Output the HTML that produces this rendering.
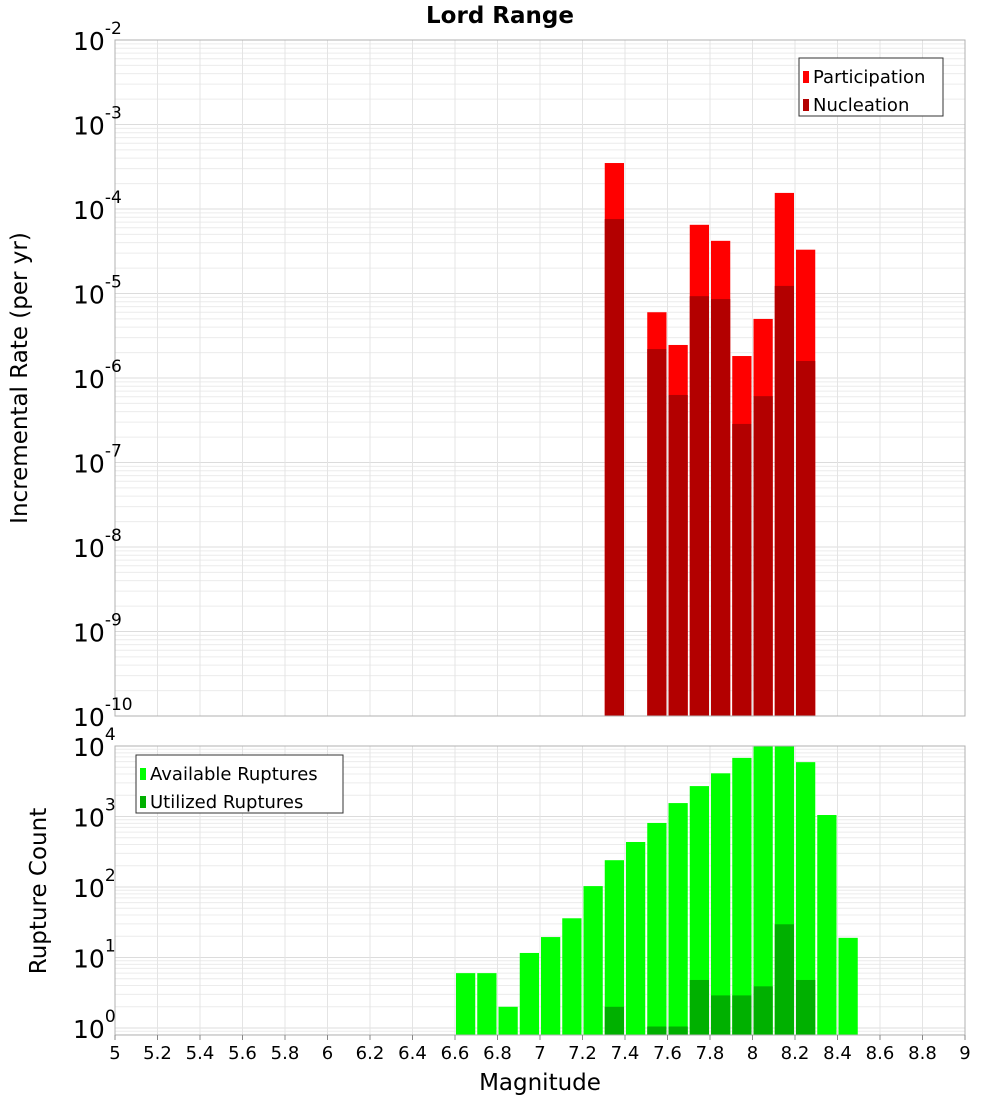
<!DOCTYPE html>
<html><head><meta charset="utf-8"><style>
body{margin:0;background:#fff;font-family:"DejaVu Sans","Liberation Sans",sans-serif;}
svg text{font-family:"DejaVu Sans","Liberation Sans",sans-serif;}
</style></head><body>
<svg id="chart" width="1000" height="1100" xmlns="http://www.w3.org/2000/svg">
<text x="500" y="23" text-anchor="middle" font-size="23" font-weight="bold">Lord Range</text>
<text transform="translate(27,378) rotate(-90)" text-anchor="middle" font-size="23">Incremental Rate (per yr)</text>
<text transform="translate(46,891) rotate(-90)" text-anchor="middle" font-size="23">Rupture Count</text>
<text x="540" y="1090" text-anchor="middle" font-size="23">Magnitude</text>
<g id="top"></g><g id="bot"></g><g id="xt"></g>
</svg>
<script>
const mags=[7.35,7.55,7.65,7.75,7.85,7.95,8.05,8.15,8.25];
const partic=[3.5e-4,6.0e-6,2.46e-6,6.5e-5,4.2e-5,1.82e-6,5.0e-6,1.55e-4,3.3e-5];
const nucl=[7.6e-5,2.2e-6,6.3e-7,9.3e-6,8.6e-6,2.86e-7,6.1e-7,1.23e-5,1.59e-6];
const availMags=[6.65,6.75,6.85,6.95,7.05,7.15,7.25,7.35,7.45,7.55,7.65,7.75,7.85,7.95,8.05,8.15,8.25,8.35,8.45];
const avail=[6,6,2,11.6,19.5,36,103,240,435,810,1550,2700,4100,6780,10000,10000,5900,1050,19];
const utilMags=[7.35,7.55,7.65,7.75,7.85,7.95,8.05,8.15,8.25];
const util=[2,1.05,1.05,4.8,2.9,2.9,3.9,29.6,4.8];
const xTicks=[5,5.2,5.4,5.6,5.8,6,6.2,6.4,6.6,6.8,7,7.2,7.4,7.6,7.8,8,8.2,8.4,8.6,8.8,9];
const topExp=[-2,-3,-4,-5,-6,-7,-8,-9,-10];
const botExp=[4,3,2,1,0];

const NS="http://www.w3.org/2000/svg";
const L=115,R=965;
const X=m=>L+(m-5)*(R-L)/4;
const topY=v=>40+(-2-Math.log10(v))*84.5;
const botY=v=>746+(4-Math.log10(v))*70.5;
function mk(p,t,a){const e=document.createElementNS(NS,t);for(const k in a)e.setAttribute(k,a[k]);p.appendChild(e);return e;}
function panel(g,y0,y1,yf,dmin,dmax,name){
  const bg=mk(g,'rect',{x:L,y:y0,width:R-L,height:y1-y0,fill:'#fff'});
  
  
  for(let d=dmin;d<dmax;d++)for(let k=1;k<10;k++){const y=yf(k*Math.pow(10,d));if(y<y0||y>y1)continue;
    const l=mk(g,'line',{x1:L,x2:R,y1:y,y2:y,stroke:k==1?'#dcdcdc':'#ececec','stroke-width':1});
    
    }
  xTicks.forEach(t=>{const x=X(t);const l=mk(g,'line',{x1:x,x2:x,y1:y0,y2:y1,stroke:'#e4e4e4'});
    
    });
}
const topG=document.getElementById('top'),botG=document.getElementById('bot');
panel(topG,40,716,topY,-10,-2,'top');
panel(botG,746,1035,botY,-1,4,'bottom');
const bw=(X(5.1)-X(5))-2;
function bar(g,m,v,yf,base,minY,col,name){const y=Math.max(yf(v),minY);
  const r=mk(g,'rect',{x:X(m)-bw/2,y:y,width:bw,height:base-y,fill:col});
  
  }
mags.forEach((m,i)=>bar(topG,m,partic[i],topY,716,40,'#ff0000','participation-bar'));
mags.forEach((m,i)=>bar(topG,m,nucl[i],topY,716,40,'#b30000','nucleation-bar'));
availMags.forEach((m,i)=>bar(botG,m,avail[i],botY,1035,746,'#00ff00','available-bar'));
utilMags.forEach((m,i)=>bar(botG,m,util[i],botY,1035,746,'#00b000','utilized-bar'));
mk(topG,'rect',{x:L,y:40,width:R-L,height:676,fill:'none',stroke:'#b0b0b0'});
mk(botG,'rect',{x:L,y:746,width:R-L,height:289,fill:'none',stroke:'#b0b0b0'});
function ytick(g,e,y,name){const t=mk(g,'text',{x:73,y:y+10,'font-size':25});t.textContent='10';
  const s=mk(t,'tspan',{dy:-16,'font-size':17});s.textContent=String(e);
  
  }
topExp.forEach(e=>ytick(topG,e,topY(Math.pow(10,e)),'top-y-tick'));
botExp.forEach(e=>ytick(botG,e,botY(Math.pow(10,e)),'bottom-y-tick'));
const xt=document.getElementById('xt');
xTicks.forEach(t=>{const x=X(t);mk(xt,'line',{x1:x,x2:x,y1:1035,y2:1040,stroke:'#888'});
  const s=mk(xt,'text',{x:x,y:1059,'text-anchor':'middle','font-size':18});s.textContent=String(t);
  
  });
function legend(g,x,y,w,items,name){const b=mk(g,'rect',{x:x,y:y,width:w,height:58,fill:'#fff',stroke:'#333'});
  
  
  items.forEach((it,i)=>{const yy=y+8+i*28;mk(g,'rect',{x:x+4,y:yy+5,width:6,height:12,fill:it[1]});
    const t=mk(g,'text',{x:x+14,y:yy+17,'font-size':18});t.textContent=it[0];
    
    });}
legend(topG,799,58,144,[['Participation','#ff0000'],['Nucleation','#b30000']],'top-legend');
legend(botG,136,755,207,[['Available Ruptures','#00ff00'],['Utilized Ruptures','#00b000']],'bottom-legend');
</script>
</body></html>
